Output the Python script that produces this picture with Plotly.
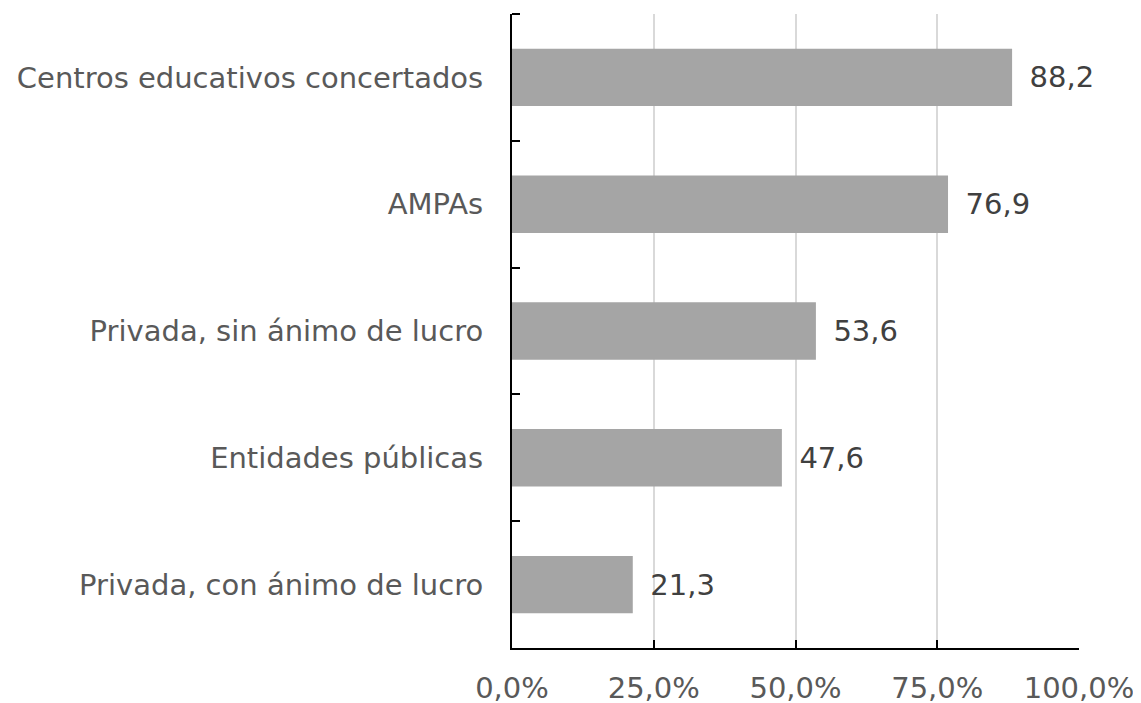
import plotly.graph_objects as go

categories = ["Privada, con ánimo de lucro", "Entidades públicas", "Privada, sin ánimo de lucro", "AMPAs", "Centros educativos concertados"]
values = [21.3, 47.6, 53.6, 76.9, 88.2]
value_labels = ["21,3", "47,6", "53,6", "76,9", "88,2"]
x_tickvals = [0, 25, 50, 75, 100]
x_ticktext = ["0,0%", "25,0%", "50,0%", "75,0%", "100,0%"]

FONT = "DejaVu Sans, Verdana, sans-serif"
FS = 29

fig = go.Figure()
fig.add_trace(go.Bar(
    y=categories, x=values, orientation="h",
    marker=dict(color="#A5A5A5", line=dict(width=0)),
    width=0.453,
    text=["\u2002" + t for t in value_labels],
    textposition="outside",
    textfont=dict(family=FONT, size=FS, color="#404040"),
    cliponaxis=False,
))
# top boundary tick of the category axis
fig.add_shape(type="line", xref="paper", yref="paper", x0=0, x1=8 / 567, y0=1, y1=1,
              line=dict(color="black", width=2))
fig.update_layout(
    width=1133, height=703,
    margin=dict(l=504, r=62, t=6, b=63, autoexpand=False),
    plot_bgcolor="white", paper_bgcolor="white",
    showlegend=False,
    font=dict(family=FONT, size=FS, color="#595959"),
    xaxis=dict(
        range=[0, 100], tickvals=x_tickvals, ticktext=x_ticktext,
        showgrid=True, gridcolor="#D9D9D9", gridwidth=2,
        showline=True, linecolor="black", linewidth=2,
        ticks="inside", ticklen=8, tickcolor="black", tickwidth=2,
        ticklabelstandoff=13, zeroline=False, automargin=False,
        tickfont=dict(family=FONT, size=FS, color="#595959"),
    ),
    yaxis=dict(
        type="category", categoryorder="array", categoryarray=categories,
        range=[-0.5, 4.5],
        showline=True, linecolor="black", linewidth=2,
        ticks="inside", tickson="boundaries", ticklen=8, tickcolor="black", tickwidth=2,
        ticklabelstandoff=21, showgrid=False, automargin=False,
        tickfont=dict(family=FONT, size=FS, color="#595959"),
    ),
)
fig.write_html("out.html")
